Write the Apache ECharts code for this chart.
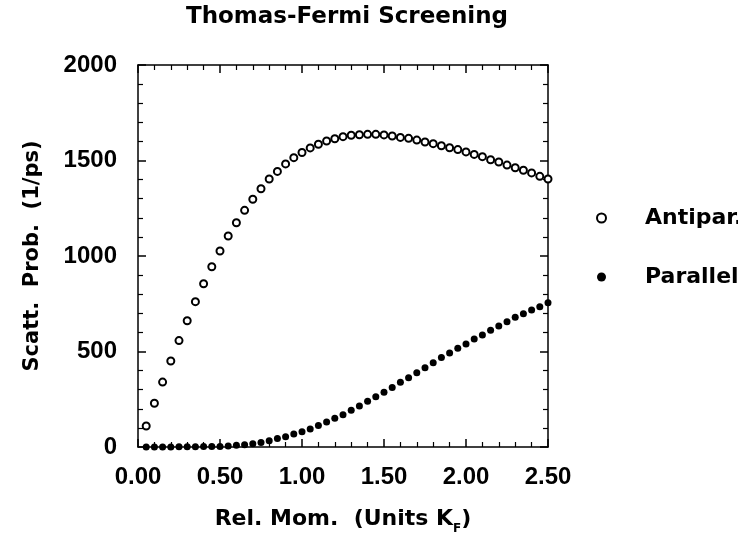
<!DOCTYPE html>
<html>
<head>
<meta charset="utf-8">
<script src="https://cdn.jsdelivr.net/npm/echarts@6/dist/echarts.min.js"></script>
<style>html,body{margin:0;padding:0;background:#fff;}#c{width:738px;height:538px;}</style>
</head>
<body>
<div id="c"></div>
<script>
// Relative momentum (units of K_F)
const relMom = [0.05,0.10,0.15,0.20,0.25,0.30,0.35,0.40,0.45,0.50,
  0.55,0.60,0.65,0.70,0.75,0.80,0.85,0.90,0.95,1.00,
  1.05,1.10,1.15,1.20,1.25,1.30,1.35,1.40,1.45,1.50,
  1.55,1.60,1.65,1.70,1.75,1.80,1.85,1.90,1.95,2.00,
  2.05,2.10,2.15,2.20,2.25,2.30,2.35,2.40,2.45,2.50];
// Scattering probability (1/ps), antiparallel spins
const antipar = [110,229,340,450,557,661,761,855,944,1026,
  1105,1174,1239,1297,1352,1403,1443,1482,1515,1542,
  1566,1585,1602,1614,1625,1632,1635,1637,1637,1634,
  1628,1621,1616,1607,1597,1588,1577,1567,1557,1545,
  1532,1520,1504,1492,1476,1462,1449,1435,1417,1403];
// Scattering probability (1/ps), parallel spins
const parallel = [0,0,0,0,1,1,1,2,2,3,
  5,9,12,17,24,33,44,54,68,80,
  94,112,131,150,169,192,215,239,263,286,
  312,339,363,389,415,441,468,492,517,539,
  565,586,611,634,656,679,698,717,734,755];
const seriesNames = ['Antipar.', 'Parallel'];
const titleText = 'Thomas-Fermi Screening';
const xName = 'Rel. Mom.  (Units K{sub|F})';
const yName = 'Scatt.  Prob.  (1/ps)';

const chart = echarts.init(document.getElementById('c'), null, {renderer: 'canvas'});
const FONT = 'DejaVu Sans';
const TICKFONT = 'Liberation Sans';
const axisLine = {show: true, onZero: false, lineStyle: {color: '#000', width: 1.5}};
const tick = {show: true, inside: true, length: 8, lineStyle: {color: '#000', width: 1.5}};
const minor = {show: true, splitNumber: 5, length: 5, lineStyle: {color: '#000', width: 1.2}};

const option = {
  animation: false,
  backgroundColor: '#fff',
  title: {
    text: titleText,
    left: 342, top: 1, textAlign: 'center',
    textStyle: {fontFamily: FONT, fontWeight: 'bold', fontSize: 23, color: '#000'}
  },
  grid: {left: 138, right: 190, top: 65, bottom: 91, containLabel: false, outerBoundsMode: 'none'},
  legend: {
    orient: 'vertical',
    left: 591, top: 202,
    itemWidth: 9, itemHeight: 9, itemGap: 37,
    data: [{name: seriesNames[0], icon: 'emptyCircle'}, {name: seriesNames[1], icon: 'circle'}],
    textStyle: {fontFamily: FONT, fontWeight: 'bold', fontSize: 22, color: '#000', padding: [0, 0, 0, 34]}
  },
  xAxis: [{
    type: 'value', min: 0, max: 2.5, interval: 0.5,
    name: xName, nameLocation: 'middle', nameGap: 56,
    nameTextStyle: {
      fontFamily: FONT, fontWeight: 'bold', fontSize: 22, color: '#000', lineHeight: 32,
      rich: {sub: {fontFamily: FONT, fontWeight: 'bold', fontSize: 12, color: '#000', lineHeight: 32, verticalAlign: 'bottom'}}
    },
    axisLine: axisLine, axisTick: tick, minorTick: minor,
    splitLine: {show: false},
    axisLabel: {margin: 18, color: '#000', fontFamily: TICKFONT, fontWeight: 'bold', fontSize: 24,
      formatter: v => v.toFixed(2)}
  }, {
    type: 'value', position: 'top', min: 0, max: 2.5, interval: 0.5,
    axisLine: axisLine, axisTick: tick, minorTick: minor,
    splitLine: {show: false}, axisLabel: {show: false}
  }],
  yAxis: [{
    type: 'value', min: 0, max: 2000, interval: 500,
    name: yName, nameLocation: 'middle', nameGap: 95,
    nameTextStyle: {fontFamily: FONT, fontWeight: 'bold', fontSize: 21, color: '#000'},
    axisLine: axisLine, axisTick: tick, minorTick: minor,
    splitLine: {show: false},
    axisLabel: {margin: 21, color: '#000', fontFamily: TICKFONT, fontWeight: 'bold', fontSize: 24,
      formatter: v => String(v)}
  }, {
    type: 'value', position: 'right', min: 0, max: 2000, interval: 500,
    axisLine: axisLine, axisTick: tick, minorTick: minor,
    splitLine: {show: false}, axisLabel: {show: false}
  }],
  series: [{
    name: seriesNames[0], type: 'scatter', xAxisIndex: 0, yAxisIndex: 0,
    symbol: 'emptyCircle', symbolSize: 7,
    itemStyle: {color: '#000', borderColor: '#000', borderWidth: 1.8, opacity: 1},
    data: relMom.map((x, i) => [x, antipar[i]])
  }, {
    name: seriesNames[1], type: 'scatter', xAxisIndex: 0, yAxisIndex: 0,
    symbol: 'circle', symbolSize: 7,
    itemStyle: {color: '#000', opacity: 1},
    data: relMom.map((x, i) => [x, parallel[i]])
  }]
};
chart.setOption(option);
</script>
</body>
</html>
